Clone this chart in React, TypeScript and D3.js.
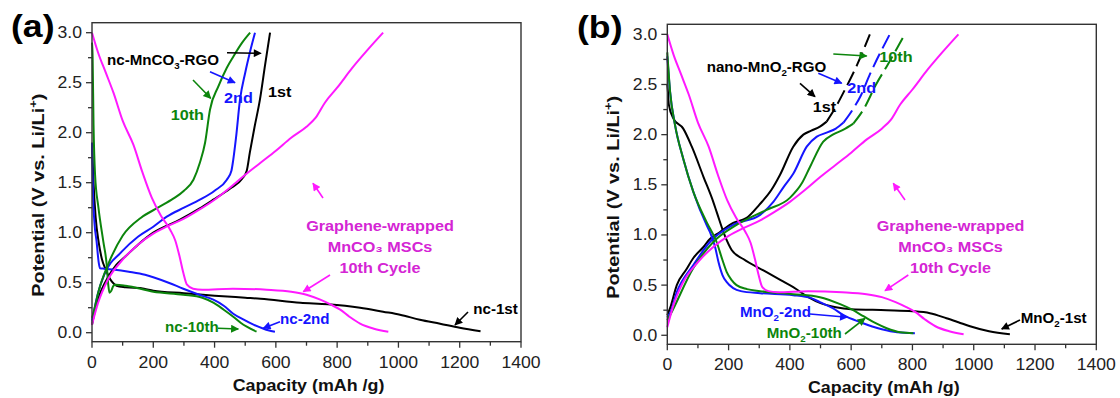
import React from 'react';
import * as d3 from 'd3';

type Pt = [number, number];

// ---------- axis ticks ----------
const xTicks = [0, 200, 400, 600, 800, 1000, 1200, 1400];
const xMinorTicks = [100, 300, 500, 700, 900, 1100, 1300];
const yTicks = [0, 0.5, 1.0, 1.5, 2.0, 2.5, 3.0];
const yMinorTicks = [0.25, 0.75, 1.25, 1.75, 2.25, 2.75];

// ---------- shared: Graphene-wrapped MnCO3 MSCs, 10th cycle ----------
const mscDischarge: Pt[] = [[0,3.0],[20,2.8],[45,2.6],[70,2.4],[100,2.12],[135,1.88],[165,1.6],[195,1.35],[225,1.17],[255,1.03],[272,0.92],[286,0.76],[298,0.6],[310,0.48],[330,0.44],[360,0.43],[460,0.44],[570,0.43],[650,0.41],[700,0.38],[745,0.33],[780,0.28],[810,0.23],[840,0.16],[875,0.09],[920,0.04],[967,0.01]];
const mscCharge: Pt[] = [[0,0.08],[20,0.3],[50,0.52],[100,0.73],[150,0.88],[200,0.99],[250,1.07],[300,1.14],[350,1.23],[400,1.33],[450,1.45],[500,1.58],[550,1.7],[600,1.82],[650,1.95],[700,2.06],[730,2.15],[760,2.3],[800,2.45],[850,2.65],[900,2.83],[950,3.0]];

// ---------- panel (a): nc-MnCO3-RGO ----------
const nc1stDischarge: Pt[] = [[0,1.9],[5,1.5],[12,1.15],[22,0.9],[32,0.74],[45,0.63],[55,0.56],[65,0.51],[80,0.47],[110,0.455],[170,0.44],[200,0.42],[300,0.395],[400,0.37],[500,0.35],[550,0.34],[680,0.3],[770,0.285],[875,0.25],[950,0.21],[1005,0.18],[1070,0.13],[1136,0.09],[1200,0.05],[1268,0.015]];
const nc1stCharge: Pt[] = [[0,0.08],[15,0.29],[30,0.42],[53,0.56],[80,0.68],[108,0.76],[150,0.88],[200,1.0],[287,1.13],[350,1.24],[396,1.33],[450,1.44],[490,1.54],[505,1.62],[515,1.8],[530,2.05],[548,2.33],[565,2.68],[581,3.0]];
const nc2ndDischarge: Pt[] = [[0,1.9],[3,1.41],[8,1.1],[15,0.91],[22,0.7],[26,0.645],[40,0.64],[75,0.63],[120,0.61],[173,0.58],[200,0.555],[250,0.5],[298,0.44],[350,0.38],[396,0.33],[430,0.27],[461,0.19],[495,0.13],[527,0.08],[560,0.04],[575,0.025],[597,0.01]];
const nc2ndCharge: Pt[] = [[0,0.12],[20,0.4],[40,0.58],[97,0.81],[150,0.96],[200,1.06],[244,1.16],[300,1.25],[352,1.33],[400,1.42],[440,1.53],[455,1.62],[461,1.73],[470,1.95],[483,2.33],[500,2.6],[515,2.8],[532,3.0]];
const nc10thDischarge: Pt[] = [[0,2.9],[2,2.76],[5,2.08],[10,1.58],[21,1.25],[37,0.91],[48,0.68],[53,0.48],[57,0.4],[63,0.42],[70,0.47],[78,0.48],[110,0.47],[200,0.41],[298,0.38],[360,0.35],[396,0.3],[430,0.23],[461,0.16],[485,0.1],[505,0.06],[537,0.01]];
const nc10thCharge: Pt[] = [[0,0.15],[4,0.19],[21,0.41],[55,0.7],[100,0.97],[160,1.15],[215,1.25],[265,1.34],[300,1.42],[331,1.53],[352,1.7],[369,1.9],[385,2.23],[412,2.46],[440,2.65],[461,2.76],[490,2.9],[516,3.0]];

// ---------- panel (b): nano-MnO2-RGO ----------
const mno1stDischarge: Pt[] = [[0,2.5],[2,2.43],[5,2.3],[20,2.16],[52,2.06],[80,1.88],[118,1.58],[150,1.33],[161,1.23],[188,0.99],[210,0.85],[248,0.76],[324,0.63],[370,0.55],[411,0.48],[460,0.38],[500,0.32],[550,0.28],[600,0.26],[716,0.25],[800,0.24],[857,0.22],[911,0.17],[950,0.13],[988,0.09],[1050,0.04],[1118,0.01]];
const mno1stCharge: Pt[] = [[0,0.2],[9,0.27],[31,0.5],[63,0.66],[85,0.77],[118,0.88],[139,0.96],[172,1.03],[215,1.12],[259,1.17],[300,1.3],[340,1.45],[368,1.6],[411,1.88],[444,2.0],[470,2.04],[498,2.08],[520,2.13],[545,2.25],[580,2.45],[620,2.7],[661,3.0]];
const mno2ndDischarge: Pt[] = [[0,2.78],[9,2.43],[25,2.1],[52,1.76],[85,1.43],[128,1.1],[139,1.03],[156,0.88],[167,0.73],[180,0.6],[194,0.53],[215,0.47],[240,0.44],[303,0.42],[411,0.4],[470,0.37],[498,0.33],[540,0.27],[575,0.2],[630,0.13],[700,0.06],[750,0.03],[808,0.02]];
const mno2ndCharge: Pt[] = [[0,0.18],[9,0.22],[31,0.43],[85,0.7],[139,0.93],[215,1.1],[303,1.2],[346,1.33],[380,1.48],[411,1.61],[455,1.88],[488,1.98],[520,2.02],[550,2.06],[575,2.12],[605,2.25],[630,2.38],[661,2.6],[726,3.0]];
const mno10thDischarge: Pt[] = [[0,2.82],[9,2.43],[25,2.1],[52,1.76],[85,1.43],[128,1.13],[161,0.93],[180,0.75],[194,0.63],[210,0.55],[226,0.5],[260,0.46],[303,0.44],[411,0.41],[498,0.38],[564,0.31],[600,0.26],[640,0.19],[680,0.12],[716,0.07],[760,0.03],[803,0.02]];
const mno10thCharge: Pt[] = [[0,0.15],[9,0.2],[85,0.67],[150,0.93],[226,1.1],[324,1.25],[400,1.37],[440,1.52],[466,1.68],[509,1.93],[540,2.0],[575,2.05],[607,2.11],[640,2.25],[683,2.51],[716,2.68],[775,3.0]];

// ---------- styling ----------
const C_BLACK = '#000000';
const C_BLUE = '#1515ff';
const C_GREEN = '#0c850c';
const C_PINK = '#ff19ff';
const C_PINK_TXT = '#d425d4';
const FONT = '"Liberation Sans", Arial, Helvetica, sans-serif';

type Frame = { left: number; right: number; top: number; bottom: number };
const frameA: Frame = { left: 92, right: 521, top: 22.7, bottom: 341.7 };
const frameB: Frame = { left: 667.3, right: 1096.3, top: 24.3, bottom: 344.3 };

type Series = { data: Pt[]; color: string; dashAbove?: number };

function T(props: { x: number; y: number; children: React.ReactNode; size?: number; weight?: string; fill?: string; anchor?: string; sx?: number; rotate?: number }) {
  const { x, y, children, size = 15, weight = 'bold', fill = '#000', anchor = 'start', sx = 1.08, rotate = 0 } = props;
  return (
    <text
      transform={`translate(${x},${y}) rotate(${rotate}) scale(${sx},1)`}
      fontSize={size}
      fontWeight={weight}
      fill={fill}
      textAnchor={anchor as any}
      fontFamily={FONT}
    >
      {children}
    </text>
  );
}

function Arrow({ x1, y1, x2, y2, color, id }: { x1: number; y1: number; x2: number; y2: number; color: string; id: string }) {
  return <line x1={x1} y1={y1} x2={x2} y2={y2} stroke={color} strokeWidth={1.6} markerEnd={`url(#${id})`} />;
}

function Panel({ frame, series, label, labelX, children }: { frame: Frame; series: Series[]; label: string; labelX: number; children?: React.ReactNode }) {
  const x = d3.scaleLinear().domain([0, 1400]).range([frame.left, frame.right]);
  const y = d3.scaleLinear().domain([-0.09, 3.1]).range([frame.bottom, frame.top]);
  const line = d3
    .line<Pt>()
    .x((d) => x(d[0]))
    .y((d) => y(d[1]))
    .curve(d3.curveMonotoneX);

  const paths: React.ReactNode[] = [];
  series.forEach((s, i) => {
    if (s.dashAbove !== undefined) {
      const k = s.data.findIndex((p) => p[1] >= (s.dashAbove as number));
      const solid = s.data.slice(0, k);
      const dashed = s.data.slice(k - 1);
      paths.push(<path key={`s${i}a`} d={line(solid) || ''} fill="none" stroke={s.color} strokeWidth={2} />);
      paths.push(<path key={`s${i}b`} d={line(dashed) || ''} fill="none" stroke={s.color} strokeWidth={2} strokeDasharray="15,6" />);
    } else {
      paths.push(<path key={`s${i}`} d={line(s.data) || ''} fill="none" stroke={s.color} strokeWidth={2} />);
    }
  });

  const cx = (frame.left + frame.right) / 2;
  const cy = (frame.top + frame.bottom) / 2;
  return (
    <g>
      {paths}
      <rect x={frame.left} y={frame.top} width={frame.right - frame.left} height={frame.bottom - frame.top} fill="none" stroke="#333" strokeWidth={1.4} />
      {xTicks.map((t) => (
        <g key={`xt${t}`}>
          <line x1={x(t)} x2={x(t)} y1={frame.bottom} y2={frame.bottom + 6} stroke="#333" strokeWidth={1.3} />
          <T x={x(t)} y={frame.bottom + 26} size={16} weight="normal" fill="#222" anchor="middle" sx={1.1}>{t}</T>
        </g>
      ))}
      {xMinorTicks.map((t) => (
        <line key={`xm${t}`} x1={x(t)} x2={x(t)} y1={frame.bottom} y2={frame.bottom + 4} stroke="#333" strokeWidth={1.3} />
      ))}
      {yTicks.map((t) => (
        <g key={`yt${t}`}>
          <line x1={frame.left - 6} x2={frame.left} y1={y(t)} y2={y(t)} stroke="#333" strokeWidth={1.3} />
          <T x={frame.left - 10} y={y(t) + 5.5} size={16} weight="normal" fill="#222" anchor="end" sx={1.1}>{t.toFixed(1)}</T>
        </g>
      ))}
      {yMinorTicks.map((t) => (
        <line key={`ym${t}`} x1={frame.left - 4} x2={frame.left} y1={y(t)} y2={y(t)} stroke="#333" strokeWidth={1.3} />
      ))}
      <T x={cx + 2} y={frame.bottom + 49} size={17} anchor="middle" fill="#111" sx={1.05}>Capacity (mAh /g)</T>
      <T x={frame.left - 48} y={cy + 13} size={17} anchor="middle" fill="#111" rotate={-90} sx={1.17}>
        Potential (V vs. Li/Li<tspan dy={-7} fontSize={11}>+</tspan><tspan dy={7}>)</tspan>
      </T>
      <T x={labelX} y={frame.top + 14} size={31} sx={1.15}>{label}</T>
      {children}
    </g>
  );
}

export default function App() {
  const markers = [
    ['ah-k', C_BLACK],
    ['ah-b', C_BLUE],
    ['ah-g', C_GREEN],
    ['ah-p', C_PINK],
  ];
  return (
    <svg width={1120} height={398} style={{ position: 'absolute', left: 0, top: 0, background: '#fff' }} fontFamily={FONT}>
      <defs>
        {markers.map(([id, c]) => (
          <marker key={id} id={id} viewBox="0 0 10 10" refX="9" refY="5" markerWidth="9" markerHeight="8" orient="auto" markerUnits="userSpaceOnUse">
            <path d="M0,0 L10,5 L0,10 z" fill={c} />
          </marker>
        ))}
      </defs>
      <rect x={0} y={0} width={1120} height={398} fill="#fff" />

      <Panel
        frame={frameA}
        label="(a)"
        labelX={11}
        series={[
          { data: nc1stDischarge, color: C_BLACK },
          { data: nc1stCharge, color: C_BLACK },
          { data: nc2ndDischarge, color: C_BLUE },
          { data: nc2ndCharge, color: C_BLUE },
          { data: nc10thDischarge, color: C_GREEN },
          { data: nc10thCharge, color: C_GREEN },
          { data: mscDischarge, color: C_PINK },
          { data: mscCharge, color: C_PINK },
        ]}
      >
        <T x={107} y={65} size={14}>nc-MnCO<tspan dy={4} fontSize={9}>3</tspan><tspan dy={-4}>-RGO</tspan></T>
        <Arrow x1={227} y1={52.7} x2={261} y2={53.3} color={C_BLACK} id="ah-k" />
        <Arrow x1={210} y1={71.7} x2={235} y2={82.7} color={C_BLUE} id="ah-b" />
        <Arrow x1={193} y1={80} x2={210.7} y2={98.3} color={C_GREEN} id="ah-g" />
        <T x={224} y={102.7} fill={C_BLUE}>2nd</T>
        <T x={268} y={96.7}>1st</T>
        <T x={170.7} y={120} fill={C_GREEN}>10th</T>
        <Arrow x1={323} y1={198} x2={313} y2={183.3} color={C_PINK} id="ah-p" />
        <T x={380} y={230.7} fill={C_PINK_TXT} anchor="middle" size={15}>Graphene-wrapped</T>
        <T x={380} y={251.7} fill={C_PINK_TXT} anchor="middle" size={15}>MnCO₃ MSCs</T>
        <T x={380} y={272.7} fill={C_PINK_TXT} anchor="middle" size={15}>10th Cycle</T>
        <Arrow x1={330} y1={275} x2={303.3} y2={291.7} color={C_PINK} id="ah-p" />
        <T x={473.3} y={314.3} size={14}>nc-1st</T>
        <Arrow x1={468} y1={312} x2={455} y2={325} color={C_BLACK} id="ah-k" />
        <T x={280} y={324} size={14} fill={C_BLUE}>nc-2nd</T>
        <Arrow x1={280} y1={321.7} x2={263.3} y2={328.3} color={C_BLUE} id="ah-b" />
        <T x={165} y={331.7} size={14} fill={C_GREEN}>nc-10th</T>
        <Arrow x1={218} y1={328.3} x2={238.3} y2={329} color={C_GREEN} id="ah-g" />
      </Panel>

      <Panel
        frame={frameB}
        label="(b)"
        labelX={577}
        series={[
          { data: mno1stDischarge, color: C_BLACK },
          { data: mno1stCharge, color: C_BLACK, dashAbove: 2.15 },
          { data: mno2ndDischarge, color: C_BLUE },
          { data: mno2ndCharge, color: C_BLUE, dashAbove: 2.15 },
          { data: mno10thDischarge, color: C_GREEN },
          { data: mno10thCharge, color: C_GREEN, dashAbove: 2.15 },
          { data: mscDischarge, color: C_PINK },
          { data: mscCharge, color: C_PINK },
        ]}
      >
        <T x={706.7} y={71.7} size={14}>nano-MnO<tspan dy={4} fontSize={9}>2</tspan><tspan dy={-4}>-RGO</tspan></T>
        <Arrow x1={800} y1={83.3} x2={815} y2={96.7} color={C_BLACK} id="ah-k" />
        <Arrow x1={818.3} y1={73.3} x2={841.7} y2={83.3} color={C_BLUE} id="ah-b" />
        <Arrow x1={833.3} y1={54} x2={866.7} y2={56} color={C_GREEN} id="ah-g" />
        <T x={812.7} y={111.7}>1st</T>
        <T x={847.3} y={92.7} fill={C_BLUE}>2nd</T>
        <T x={879.3} y={62.3} fill={C_GREEN}>10th</T>
        <Arrow x1={905} y1={200} x2={893.3} y2={183.3} color={C_PINK} id="ah-p" />
        <T x={950.5} y={230.7} fill={C_PINK_TXT} anchor="middle" size={15}>Graphene-wrapped</T>
        <T x={950.5} y={251.7} fill={C_PINK_TXT} anchor="middle" size={15}>MnCO₃ MSCs</T>
        <T x={950.5} y={272.7} fill={C_PINK_TXT} anchor="middle" size={15}>10th Cycle</T>
        <Arrow x1={908.3} y1={275} x2={885} y2={290.7} color={C_PINK} id="ah-p" />
        <T x={1020.7} y={323.3} size={14}>MnO<tspan dy={4} fontSize={9}>2</tspan><tspan dy={-4}>-1st</tspan></T>
        <Arrow x1={1020} y1={320} x2={1001.7} y2={329} color={C_BLACK} id="ah-k" />
        <T x={740} y={316.7} size={14} fill={C_BLUE}>MnO<tspan dy={4} fontSize={9}>2</tspan><tspan dy={-4}>-2nd</tspan></T>
        <Arrow x1={810} y1={314} x2={847.3} y2={317.3} color={C_BLUE} id="ah-b" />
        <T x={766.7} y={338.3} size={14} fill={C_GREEN}>MnO<tspan dy={4} fontSize={9}>2</tspan><tspan dy={-4}>-10th</tspan></T>
        <Arrow x1={845} y1={334} x2={865} y2={318.3} color={C_GREEN} id="ah-g" />
      </Panel>
    </svg>
  );
}
